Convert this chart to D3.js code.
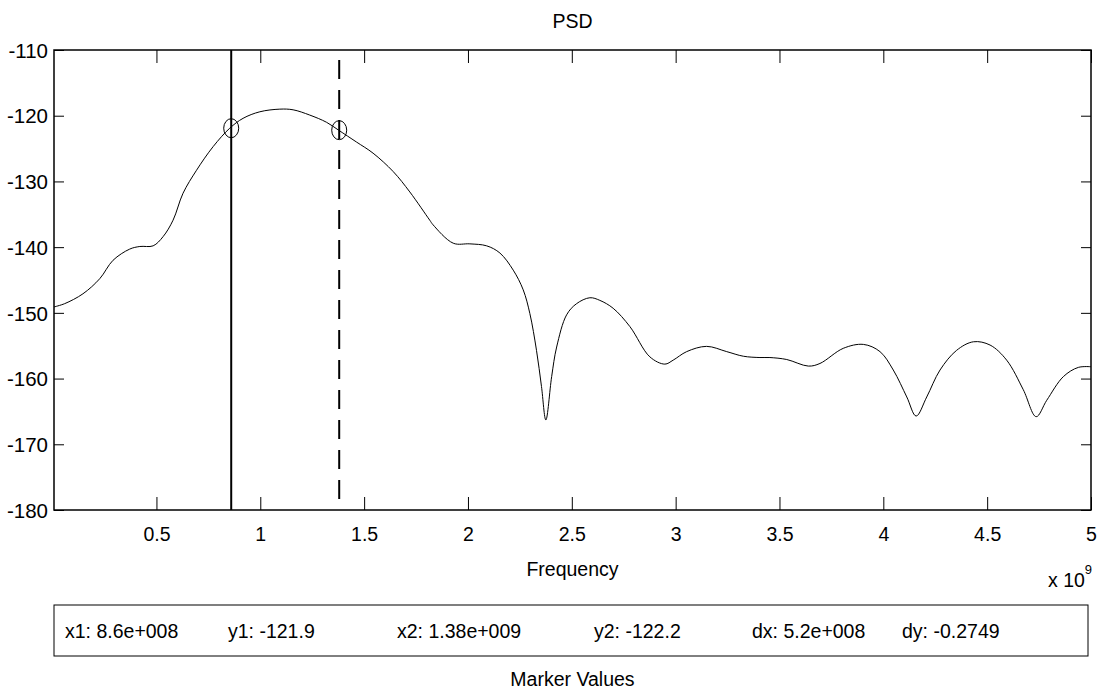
<!DOCTYPE html>
<html>
<head>
<meta charset="utf-8">
<script src="https://cdn.jsdelivr.net/npm/d3@7"></script>
<style>
  html, body { margin: 0; padding: 0; background: #fff; }
  svg text { font-family: "Liberation Sans", Arial, sans-serif; fill: #000; }
</style>
</head>
<body>
<svg id="chart" width="1101" height="694"></svg>
<script>
// ---- data (frequency in units of 1e9 Hz, PSD in dB) ----
const freq = [0.0067, 0.058, 0.146, 0.227, 0.291, 0.371, 0.420, 0.484, 0.532, 0.580,
  0.628, 0.693, 0.773, 0.853, 0.917, 0.998, 1.094, 1.158, 1.238, 1.319,
  1.377, 1.463, 1.543, 1.640, 1.720, 1.816, 1.832, 1.929, 2.009, 2.090,
  2.154, 2.218, 2.266, 2.298, 2.330, 2.354, 2.375, 2.403, 2.427, 2.475,
  2.523, 2.587, 2.635, 2.699, 2.780, 2.876, 2.948, 2.988, 3.053, 3.149,
  3.246, 3.326, 3.406, 3.454, 3.535, 3.639, 3.695, 3.807, 3.904, 3.984,
  4.048, 4.113, 4.158, 4.209, 4.273, 4.353, 4.434, 4.514, 4.594, 4.674,
  4.736, 4.787, 4.867, 4.939, 5.0];
const psd = [-149.1, -148.6, -147.1, -144.8, -142.0, -140.3, -139.9, -139.8, -138.4, -135.9,
  -131.8, -128.3, -124.7, -121.9, -120.4, -119.4, -119.0, -119.1, -119.9, -121.0,
  -122.2, -124.0, -125.7, -128.5, -131.6, -135.9, -136.6, -139.4, -139.5, -139.8,
  -140.9, -143.5, -146.5, -150.1, -155.7, -161.2, -166.3, -159.7, -155.2, -150.3,
  -148.6, -147.7, -148.1, -149.3, -152.1, -156.7, -157.8, -157.2, -155.9, -155.1,
  -155.9, -156.6, -156.8, -156.8, -157.1, -158.1, -157.7, -155.4, -154.8, -155.9,
  -158.7, -162.8, -165.7, -162.8, -158.7, -155.7, -154.4, -154.9, -157.2, -161.7,
  -165.8, -163.3, -159.7, -158.3, -158.2];
const xTicks = [0.5, 1, 1.5, 2, 2.5, 3, 3.5, 4, 4.5, 5];
const xTickLabels = ["0.5", "1", "1.5", "2", "2.5", "3", "3.5", "4", "4.5", "5"];
const yTicks = [-180, -170, -160, -150, -140, -130, -120, -110];
const yTickLabels = ["-180", "-170", "-160", "-150", "-140", "-130", "-120", "-110"];
const markerFreq = [0.86, 1.38];
const markerPsd = [-121.9, -122.2];
const readoutLabels = ["x1: 8.6e+008", "y1: -121.9", "x2: 1.38e+009", "y2: -122.2", "dx: 5.2e+008", "dy: -0.2749"];
const readoutX = [65, 228, 397, 594, 752, 902];

// ---- layout ----
const svg = d3.select("#chart");
const L = 54, R = 1091, T = 50, B = 510;
const x = d3.scaleLinear().domain([0.0067, 5]).range([L, R]);
const y = d3.scaleLinear().domain([-180, -110]).range([B, T]);
const fs = 19.5;
const font = '"Liberation Sans", Arial, sans-serif';

const axB = d3.axisBottom(x).tickValues(xTicks).tickSize(-13).tickFormat((d, i) => xTickLabels[i]);
const axT = d3.axisTop(x).tickValues(xTicks).tickSize(-13).tickFormat("");
const axL = d3.axisLeft(y).tickValues(yTicks).tickSize(-10).tickFormat((d, i) => yTickLabels[i]);
const axR = d3.axisRight(y).tickValues(yTicks).tickSize(-10).tickFormat("");

function styleAxis(g) {
  g.select(".domain").remove();
  g.selectAll(".tick line").attr("stroke", "#000").attr("stroke-width", 1);
  g.selectAll("text").style("font-size", fs + "px").style("font-family", font).attr("fill", "#000");
}
const gB = svg.append("g").attr("transform", `translate(0,${B})`).call(axB).call(styleAxis);
gB.selectAll(".tick text").attr("y", 31).attr("dy", 0);
svg.append("g").attr("transform", `translate(0,${T})`).call(axT).call(styleAxis);
const gL = svg.append("g").attr("transform", `translate(${L},0)`).call(axL).call(styleAxis);
gL.selectAll(".tick text").attr("x", -6).attr("dy", "0.35em").style("font-size", "20.5px");
svg.append("g").attr("transform", `translate(${R},0)`).call(axR).call(styleAxis);

svg.append("rect").attr("x", L).attr("y", T).attr("width", R - L).attr("height", B - T)
  .attr("fill", "none").attr("stroke", "#000").attr("stroke-width", 1.5);

// PSD curve
const line = d3.line().x((d, i) => x(freq[i])).y(d => y(d)).curve(d3.curveCatmullRom.alpha(0.5));
svg.append("path").datum(psd).attr("d", line).attr("fill", "none").attr("stroke", "#000").attr("stroke-width", 1);

// marker lines
svg.append("line").attr("x1", x(markerFreq[0])).attr("x2", x(markerFreq[0]))
  .attr("y1", y(-110)).attr("y2", y(-180)).attr("stroke", "#000").attr("stroke-width", 2);
svg.append("line").attr("x1", x(markerFreq[1])).attr("x2", x(markerFreq[1]))
  .attr("y1", y(-110)).attr("y2", y(-180)).attr("stroke", "#000").attr("stroke-width", 2)
  .attr("stroke-dasharray", "19,11").attr("stroke-dashoffset", 20);

// marker circles
svg.selectAll("ellipse.mk").data(markerFreq).enter().append("ellipse").attr("class", "mk")
  .attr("cx", d => x(d)).attr("cy", (d, i) => y(markerPsd[i]))
  .attr("rx", 7.5).attr("ry", 9.5).attr("fill", "none").attr("stroke", "#000").attr("stroke-width", 1);

// title & labels
svg.append("text").attr("x", (L + R) / 2).attr("y", 28).attr("text-anchor", "middle").style("font-size", fs + "px").text("PSD");
svg.append("text").attr("x", (L + R) / 2).attr("y", 576).attr("text-anchor", "middle").style("font-size", fs + "px").text("Frequency");
const mult = svg.append("text").attr("x", 1048).attr("y", 587).style("font-size", fs + "px");
mult.append("tspan").text("x 10");
mult.append("tspan").attr("dy", -13).style("font-size", "13px").text("9");

// marker values box
svg.append("rect").attr("x", 54).attr("y", 605).attr("width", 1034).attr("height", 51)
  .attr("fill", "#fff").attr("stroke", "#000").attr("stroke-width", 1);
svg.selectAll("text.ro").data(readoutLabels).enter().append("text").attr("class", "ro")
  .attr("x", (d, i) => readoutX[i]).attr("y", 638).style("font-size", fs + "px").text(d => d);
svg.append("text").attr("x", (L + R) / 2).attr("y", 686).attr("text-anchor", "middle").style("font-size", fs + "px").text("Marker Values");
</script>
</body>
</html>
